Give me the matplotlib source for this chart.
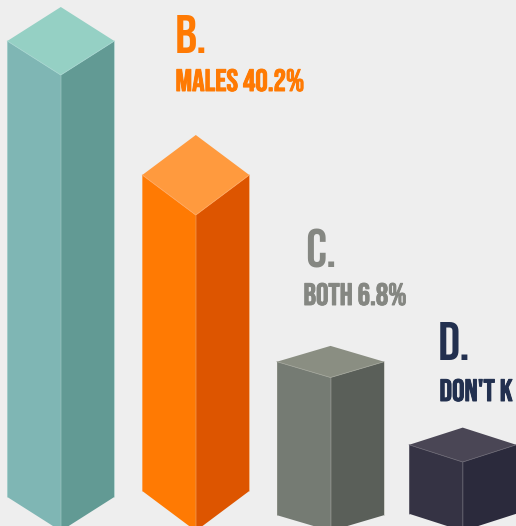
import matplotlib.pyplot as plt
import matplotlib.patheffects as pe

# data
letters = ["A.", "B.", "C.", "D."]
labels = ["", "MALES 40.2%", "BOTH 6.8%", "DON'T K"]
heights = [456, 316, 153.5, 69]

# layout of the bars
centers = [60.8, 195.8, 330.5, 462.7]
half_width = 53.5
depths = [34, 40, 15.8, 17.2]

top_colors = ["#95d0c4", "#ff9a3e", "#8a8e82", "#4a4655"]
left_colors = ["#7fb6b4", "#ff7a03", "#757b73", "#353344"]
right_colors = ["#629a94", "#dd5500", "#5a5f59", "#2b2a3c"]
line_colors = ["#a5d5cf", "#ffa860", "#a0a398", "#66636f"]
text_colors = [None, "#ff7a03", "#858782", "#22304f"]

# x, y of the letter and of the label, y counted from the same base as the bars
letter_pos = [None, (175, 478), (305, 264), (438, 171)]
label_pos = [None, (175.5, 440), (303.5, 226), (439.5, 130)]

fonts = ["Bebas Neue", "Oswald", "DejaVu Sans"]

fig = plt.figure(figsize=(5.16, 5.26), dpi=100, facecolor="#eeeeee")
ax = fig.add_axes([0, 0, 1, 1])
ax.set_xlim(0, 516)
ax.set_ylim(5, 531)
ax.axis("off")

for i in range(len(heights)):
    c = centers[i]
    h = heights[i]
    d = depths[i]
    l = c - half_width
    r = c + half_width
    # caras
    ax.fill([l, c, c, l], [d, 0, h, h + d], color=left_colors[i], lw=0)
    ax.fill([c, r, r, c], [0, d, h + d, h], color=right_colors[i], lw=0)
    ax.fill([l, c, r, c], [h + d, h, h + d, h + 2 * d], color=top_colors[i], lw=0)
    # lineas claras entre caras
    ax.plot([l, c, r], [h + d, h, h + d], color=line_colors[i], lw=0.6)
    ax.plot([c, c], [0, h], color=line_colors[i], lw=0.4, alpha=0.5)
    ax.plot([l, l], [d, h + d], color=line_colors[i], lw=0.5, alpha=0.6)
    ax.plot([r, r], [d, h + d], color=line_colors[i], lw=0.5, alpha=0.6)

    if text_colors[i] is None:
        continue
    ax.text(letter_pos[i][0], letter_pos[i][1], letters[i], color=text_colors[i],
            family=fonts, fontsize=39.5, va="baseline", ha="left")
    t = ax.text(label_pos[i][0], label_pos[i][1], labels[i], color=text_colors[i],
                family=fonts, fontsize=22.3, va="baseline", ha="left")
    t.set_path_effects([pe.withStroke(linewidth=0.7, foreground=text_colors[i])])

fig.savefig("out.png", dpi=100, facecolor=fig.get_facecolor())
